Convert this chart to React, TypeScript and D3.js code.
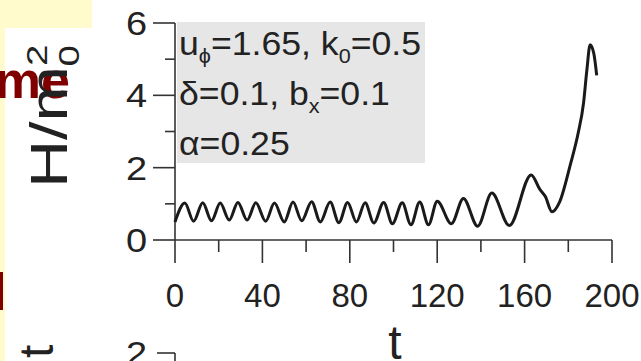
import React from "react";
import * as d3 from "d3";

const tValues = [0, 4.5, 8.5, 12.7, 16.7, 20.7, 24.8, 28.8, 33, 37, 41.5, 45.5, 50, 54, 58, 62.5, 66.5, 71, 75, 79, 83, 87, 91, 95.5, 99.5, 104, 108, 112, 116, 120, 126.5, 132, 138.5, 145, 153, 163, 167, 169.5, 172.5, 176, 181, 184.5, 187, 188.5, 190, 191.7, 193];
const hValues = [0.5, 1.02, 0.52, 1.03, 0.53, 1.02, 0.55, 1.04, 0.55, 1.03, 0.52, 1.02, 0.5, 1.05, 0.53, 1.06, 0.5, 1.05, 0.48, 1.04, 0.5, 1.03, 0.47, 1.04, 0.45, 1.03, 0.42, 1.05, 0.42, 1.07, 0.45, 1.15, 0.38, 1.3, 0.4, 1.8, 1.4, 1.2, 0.78, 1.05, 2.1, 2.95, 3.8, 4.7, 5.4, 5.15, 4.55];

const xMajorTicks = [0, 40, 80, 120, 160, 200];
const xMinorTicks = [20, 60, 100, 140, 180];
const yMajorTicks = [0, 2, 4, 6];
const yMinorTicks = [1, 3, 5];

const FONT = "'Liberation Sans', Arial, sans-serif";
const AX = "#333";
const TXT = "#222";

export default function App() {
  const x = d3.scaleLinear().domain([0, 200]).range([175, 612]);
  const y = d3.scaleLinear().domain([0, 6]).range([240, 23]);
  const data = tValues.map((t, i) => [t, hValues[i]] as [number, number]);
  const line = d3
    .line<[number, number]>()
    .x((d) => x(d[0]))
    .y((d) => y(d[1]))
    .curve(d3.curveMonotoneX);

  return (
    <svg
      width={641}
      height={361}
      style={{ position: "absolute", left: 0, top: 0, background: "#fff" }}
      fontFamily={FONT}
    >
      {/* slide fragments */}
      <rect x={0} y={0} width={92} height={28} fill="#fffbcc" />
      <rect x={0} y={28} width={5} height={333} fill="#fffbcc" />
      <text x={70} y={98} textAnchor="end" fontSize={52} fontWeight="bold" fill="#800000">
        me
      </text>
      <rect x={0} y={272} width={3} height={38} fill="#800000" />

      {/* inset box */}
      <rect x={177} y={22} width={248} height={141} fill="#e6e6e6" />
      <g fontSize={33} fill={TXT} transform="translate(179,0) scale(1.08,1)">
        <text x={0} y={55}>
          u<tspan fontSize={20} dy={8}>ϕ</tspan>
          <tspan dy={-8}>=1.65, k</tspan>
          <tspan fontSize={20} dy={8}>0</tspan>
          <tspan dy={-8}>=0.5</tspan>
        </text>
        <text x={0} y={105}>
          δ=0.1, b<tspan fontSize={20} dy={8}>x</tspan>
          <tspan dy={-8}>=0.1</tspan>
        </text>
        <text x={0} y={155}>α=0.25</text>
      </g>

      {/* axes */}
      <g stroke={AX} strokeWidth={1.6} fill="none">
        <line x1={x(0)} x2={x(0)} y1={y(6)} y2={y(0)} />
        <line x1={x(0)} x2={x(200)} y1={y(0)} y2={y(0)} />
        {xMajorTicks.map((t) => (
          <line key={"xM" + t} x1={x(t)} x2={x(t)} y1={y(0)} y2={y(0) + 23} />
        ))}
        {xMinorTicks.map((t) => (
          <line key={"xm" + t} x1={x(t)} x2={x(t)} y1={y(0)} y2={y(0) + 12} />
        ))}
        {yMajorTicks.map((v) => (
          <line key={"yM" + v} x1={x(0) - 22} x2={x(0)} y1={y(v)} y2={y(v)} />
        ))}
        {yMinorTicks.map((v) => (
          <line key={"ym" + v} x1={x(0) - 10} x2={x(0)} y1={y(v)} y2={y(v)} />
        ))}
      </g>
      <g fontSize={33} fill={TXT}>
        {xMajorTicks.map((t) => (
          <text key={"xl" + t} x={x(t)} y={307} textAnchor="middle">
            {t}
          </text>
        ))}
        {yMajorTicks.map((v) => (
          <text
            key={"yl" + v}
            transform={`translate(147,${y(v) + 12}) scale(1.15,1)`}
            textAnchor="end"
          >
            {v}
          </text>
        ))}
      </g>

      {/* axis titles */}
      <text x={395} y={359} textAnchor="middle" fontSize={48} fill={TXT}>
        t
      </text>
      <text transform="translate(67,188) rotate(-90) scale(1.28,1)" fontSize={52} fill={TXT}>
        H/m
        <tspan fontSize={30} dy={-20}>2</tspan>
        <tspan fontSize={30} dx={-17} dy={32}>0</tspan>
      </text>

      {/* data line */}
      <path d={line(data) ?? ""} fill="none" stroke="#1a1a1a" strokeWidth={3} strokeLinejoin="round" />

      {/* lower chart fragment */}
      <text transform="translate(53,358) rotate(-90)" fontSize={48} fill={TXT}>
        t
      </text>
      <line x1={157} x2={175} y1={353} y2={353} stroke={AX} strokeWidth={1.6} />
      <line x1={175} x2={175} y1={353} y2={361} stroke={AX} strokeWidth={1.6} />
      <text transform="translate(147,365) scale(1.15,1)" textAnchor="end" fontSize={33} fill={TXT}>
        2
      </text>
    </svg>
  );
}
